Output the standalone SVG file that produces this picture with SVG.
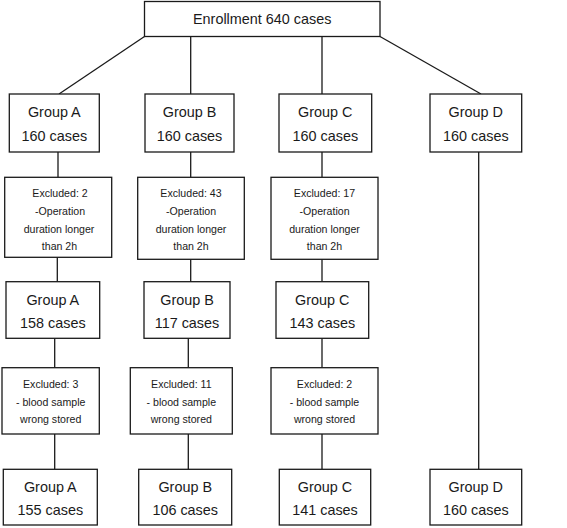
<svg xmlns="http://www.w3.org/2000/svg" width="567" height="528" viewBox="0 0 567 528">
<style>
.b{fill:#fff;stroke:#1a1a1a;stroke-width:1.3}
.c{fill:none;stroke:#1a1a1a;stroke-width:1.3}
text{font-family:"Liberation Sans",Arial,sans-serif;fill:#1a1a1a;text-anchor:middle}
.g{font-size:14.4px}
.e{font-size:10.6px}
</style>
<rect width="567" height="528" fill="#fff"/>
<g id="connectors">
<line class="c" x1="144.5" y1="36.5" x2="59" y2="94"/>
<line class="c" x1="190.7" y1="36.5" x2="190.7" y2="94"/>
<line class="c" x1="322" y1="36.5" x2="322" y2="94"/>
<line class="c" x1="380" y1="36.5" x2="481" y2="94"/>
<line class="c" x1="58" y1="152" x2="58" y2="177.3"/>
<line class="c" x1="190.7" y1="152" x2="190.7" y2="177.3"/>
<line class="c" x1="322" y1="152" x2="322" y2="177.3"/>
<line class="c" x1="478.7" y1="152" x2="478.7" y2="469.3"/>
<line class="c" x1="57.3" y1="257.3" x2="57.3" y2="281.7"/>
<line class="c" x1="190.7" y1="259.3" x2="190.7" y2="281.7"/>
<line class="c" x1="322" y1="259.3" x2="322" y2="281.7"/>
<line class="c" x1="54.7" y1="338.3" x2="54.7" y2="367.7"/>
<line class="c" x1="188.3" y1="338.3" x2="188.3" y2="367.7"/>
<line class="c" x1="322" y1="338.3" x2="322" y2="367.7"/>
<line class="c" x1="54.7" y1="434" x2="54.7" y2="469.3"/>
<line class="c" x1="188.3" y1="434" x2="188.3" y2="469.3"/>
<line class="c" x1="322" y1="434" x2="322" y2="469.3"/>
</g>
<g id="enrollment">
<rect class="b" x="144.5" y="1.5" width="235.5" height="35"/>
<text class="g" x="262.2" y="23.5">Enrollment 640 cases</text>
</g>
<g id="groupA1">
<rect class="b" x="9.3" y="94" width="90" height="58"/>
<text class="g" x="54.3" y="117">Group A</text>
<text class="g" x="54.3" y="141">160 cases</text>
</g>
<g id="groupB1">
<rect class="b" x="145" y="94" width="89" height="58"/>
<text class="g" x="189.5" y="117">Group B</text>
<text class="g" x="189.5" y="141">160 cases</text>
</g>
<g id="groupC1">
<rect class="b" x="279" y="94" width="92.7" height="58"/>
<text class="g" x="325.3" y="117">Group C</text>
<text class="g" x="325.3" y="141">160 cases</text>
</g>
<g id="groupD1">
<rect class="b" x="430" y="94" width="91.7" height="58"/>
<text class="g" x="475.8" y="117">Group D</text>
<text class="g" x="475.8" y="141">160 cases</text>
</g>
<g id="exclA1">
<rect class="b" x="4.7" y="177.3" width="107" height="80"/>
<text class="e" x="60" y="196.7">Excluded: 2</text>
<text class="e" x="60" y="215">-Operation</text>
<text class="e" x="59" y="232.7">duration longer</text>
<text class="e" x="59.5" y="250.3">than 2h</text>
</g>
<g id="exclB1">
<rect class="b" x="137.7" y="177.3" width="106.6" height="82"/>
<text class="e" x="191" y="196.7">Excluded: 43</text>
<text class="e" x="191" y="215">-Operation</text>
<text class="e" x="191" y="232.7">duration longer</text>
<text class="e" x="191" y="250.3">than 2h</text>
</g>
<g id="exclC1">
<rect class="b" x="271" y="177.3" width="107" height="82"/>
<text class="e" x="324.5" y="196.7">Excluded: 17</text>
<text class="e" x="324.5" y="215">-Operation</text>
<text class="e" x="324.5" y="232.7">duration longer</text>
<text class="e" x="324.5" y="250.3">than 2h</text>
</g>
<g id="groupA2">
<rect class="b" x="6" y="281.7" width="93.7" height="56.6"/>
<text class="g" x="52.8" y="305">Group A</text>
<text class="g" x="52.8" y="327.7">158 cases</text>
</g>
<g id="groupB2">
<rect class="b" x="144" y="281.7" width="86" height="56.6"/>
<text class="g" x="187" y="305">Group B</text>
<text class="g" x="187" y="327.7">117 cases</text>
</g>
<g id="groupC2">
<rect class="b" x="276" y="281.7" width="92.7" height="56.6"/>
<text class="g" x="322.3" y="305">Group C</text>
<text class="g" x="322.3" y="327.7">143 cases</text>
</g>
<g id="exclA2">
<rect class="b" x="2" y="367.7" width="97.3" height="66.3"/>
<text class="e" x="50.7" y="388.3">Excluded: 3</text>
<text class="e" x="50.7" y="405.7">- blood sample</text>
<text class="e" x="50.7" y="423.3">wrong stored</text>
</g>
<g id="exclB2">
<rect class="b" x="130.3" y="367.7" width="102" height="66.3"/>
<text class="e" x="181.3" y="388.3">Excluded: 11</text>
<text class="e" x="181.3" y="405.7">- blood sample</text>
<text class="e" x="181.3" y="423.3">wrong stored</text>
</g>
<g id="exclC2">
<rect class="b" x="271" y="367.7" width="107" height="66.3"/>
<text class="e" x="324.5" y="388.3">Excluded: 2</text>
<text class="e" x="324.5" y="405.7">- blood sample</text>
<text class="e" x="324.5" y="423.3">wrong stored</text>
</g>
<g id="groupA3">
<rect class="b" x="3.3" y="469.3" width="94" height="55.7"/>
<text class="g" x="50.3" y="491.7">Group A</text>
<text class="g" x="50.3" y="515">155 cases</text>
</g>
<g id="groupB3">
<rect class="b" x="138.7" y="469.3" width="93" height="55.7"/>
<text class="g" x="185.2" y="491.7">Group B</text>
<text class="g" x="185.2" y="515">106 cases</text>
</g>
<g id="groupC3">
<rect class="b" x="279.3" y="469.3" width="91.4" height="55.7"/>
<text class="g" x="325" y="491.7">Group C</text>
<text class="g" x="325" y="515">141 cases</text>
</g>
<g id="groupD3">
<rect class="b" x="430" y="469.3" width="91.7" height="55.7"/>
<text class="g" x="475.8" y="491.7">Group D</text>
<text class="g" x="475.8" y="515">160 cases</text>
</g>
</svg>
